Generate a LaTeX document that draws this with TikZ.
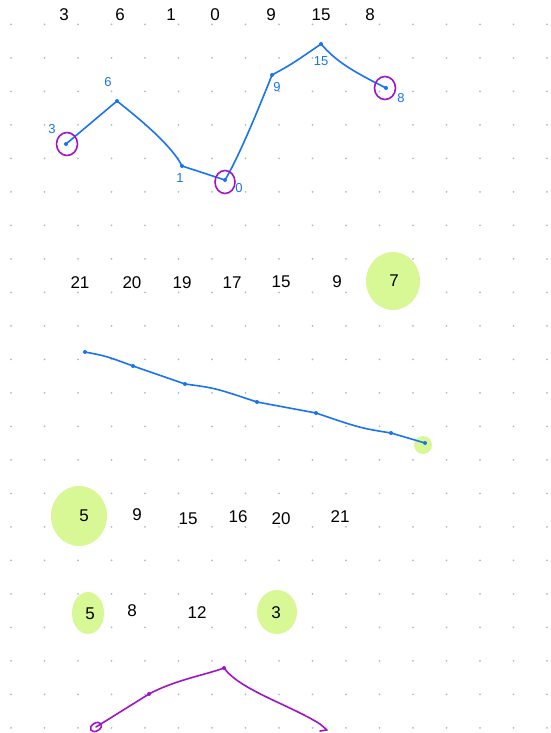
\documentclass[tikz,border=0pt]{standalone}
\usepackage{fontspec}
\setmainfont{Liberation Sans}
\usetikzlibrary{shapes.geometric}
\definecolor{inkblue}{RGB}{26,115,240}
\definecolor{inkpurple}{RGB}{160,20,200}
\definecolor{hilite}{RGB}{216,248,150}
\definecolor{griddot}{RGB}{170,186,218}
\begin{document}
\begin{tikzpicture}[x=1pt,y=-1pt,
  num/.style={font=\fontsize{17}{17}\selectfont, text=black, inner sep=0pt},
  lab/.style={font=\fontsize{13}{13}\selectfont, text=inkblue, inner sep=0pt},
  bdot/.style={circle, fill=inkblue, inner sep=0pt, minimum size=4pt},
  pdot/.style={circle, fill=inkpurple, inner sep=0pt, minimum size=4pt},
  bluepath/.style={draw=inkblue, line width=1.6pt, line cap=round, line join=round},
  purplepath/.style={draw=inkpurple, line width=1.6pt, line cap=round, line join=round},
  ring/.style={ellipse, draw=inkpurple, line width=1.6pt, inner sep=0pt},
  blob/.style={ellipse, fill=hilite, inner sep=0pt}]
\useasboundingbox (0,0) rectangle (551,733);
\fill[white] (0,0) rectangle (551,733);
\foreach \i in {0,...,16}{\foreach \j in {0,...,21}{\fill[griddot] (11+33.5*\i,24.3+33.5*\j) circle (1.0);}}

% ---------- section 1 ----------
\node[num] (a1) at (64,15) {3};
\node[num] (a2) at (120,15) {6};
\node[num] (a3) at (171,15) {1};
\node[num] (a4) at (215,15) {0};
\node[num] (a5) at (271,15) {9};
\node[num] (a6) at (321,15) {15};
\node[num] (a7) at (370,15) {8};

\coordinate (P1) at (66,144);
\coordinate (P2) at (117,101);
\coordinate (P3) at (182,166);
\coordinate (P4) at (225,180);
\coordinate (P5) at (272,75);
\coordinate (P6) at (321,44);
\coordinate (P7) at (386,88);

\draw[bluepath] (P1) -- (P2) .. controls (128,110) and (170,142) .. (P3)
  -- (P4) .. controls (240,155) and (262,100) .. (P5)
  .. controls (292,64) .. (P6) .. controls (336,61) and (350,70) .. (P7);
\foreach \p in {P1,P2,P3,P4,P5,P6,P7}{\node[bdot] at (\p) {};}

\node[lab] (b1) at (52,129) {3};
\node[lab] (b2) at (108,82) {6};
\node[lab] (b3) at (180,178) {1};
\node[lab] (b4) at (239,188) {0};
\node[lab] (b5) at (277,87) {9};
\node[lab] (b6) at (321,61) {15};
\node[lab] (b7) at (401,98) {8};

\node[ring, minimum width=21pt, minimum height=23pt] (r1) at (67,144) {};
\node[ring, minimum width=20pt, minimum height=23pt] (r2) at (225,182) {};
\node[ring, minimum width=21pt, minimum height=23pt] (r3) at (385,88) {};

% ---------- section 2 ----------
\node[blob, minimum width=54pt, minimum height=58pt] (h1) at (393,281) {};
\node[num] (c1) at (80,283) {21};
\node[num] (c2) at (132,283) {20};
\node[num] (c3) at (182,283) {19};
\node[num] (c4) at (232,283) {17};
\node[num] (c5) at (281,282) {15};
\node[num] (c6) at (337,282) {9};
\node[num] (c7) at (394,281) {7};

\node[blob, minimum width=18pt, minimum height=18pt] (h2) at (423,445) {};
\coordinate (Q1) at (85,352);
\coordinate (Q2) at (133,366);
\coordinate (Q3) at (185,384);
\coordinate (Q4) at (257,402);
\coordinate (Q5) at (316,413);
\coordinate (Q6) at (391,433);
\coordinate (Q7) at (425,443);
\draw[bluepath] (Q1) .. controls (106,356) .. (Q2) -- (Q3)
  .. controls (215,388) .. (Q4) -- (Q5) .. controls (360,428) .. (Q6) -- (Q7);
\foreach \p in {Q1,Q2,Q3,Q4,Q5,Q6,Q7}{\node[bdot] at (\p) {};}

% ---------- section 3 ----------
\node[blob, minimum width=56pt, minimum height=60pt] (h3) at (79,516) {};
\node[num] (d1) at (84,516) {5};
\node[num] (d2) at (137,515) {9};
\node[num] (d3) at (188,519) {15};
\node[num] (d4) at (238,517) {16};
\node[num] (d5) at (281,519) {20};
\node[num] (d6) at (340,517) {21};

\node[blob, minimum width=32pt, minimum height=42pt] (h4) at (88,613) {};
\node[blob, minimum width=40pt, minimum height=44pt] (h5) at (277,612) {};
\node[num] (e1) at (90,614) {5};
\node[num] (e2) at (132,611) {8};
\node[num] (e3) at (197,613) {12};
\node[num] (e4) at (276,613) {3};

\coordinate (R1) at (96,727);
\coordinate (R2) at (149,694);
\coordinate (R3) at (224,668);
\coordinate (R4) at (327,730);
\draw[purplepath] (R1) -- (R2) .. controls (175,680) and (205,675) .. (R3)
  .. controls (240,690) and (290,705) .. (320,724) -- (R4) -- (320,731);
\draw[inkpurple, line width=1.6pt, rotate around={30:(R1)}] (R1) ellipse (6 and 4);
\node[pdot] at (R2) {};
\node[pdot] at (R3) {};
\end{tikzpicture}
\end{document}
